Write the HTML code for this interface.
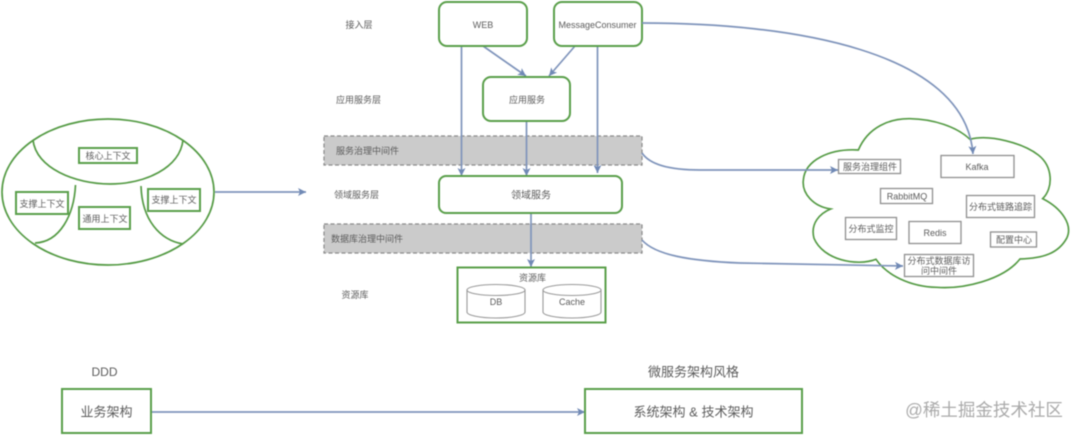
<!DOCTYPE html>
<html>
<head>
<meta charset="utf-8">
<style>
html,body{margin:0;padding:0;background:#fff;width:1080px;height:435px;overflow:hidden}
svg{display:block;filter:blur(0.6px)}
text{font-family:"Liberation Sans","Noto Sans CJK SC",sans-serif;fill:#5c5c5c;text-anchor:middle;dominant-baseline:central}
.g{fill:#fff;stroke:#5a9f4a;stroke-width:2}
.n{fill:none;stroke:#559b45;stroke-width:1.7}
.w{fill:#fff;stroke:#8f8f8f;stroke-width:1.3}
.d{fill:#cbcbcb;stroke:#8a8a8a;stroke-width:1.2;stroke-dasharray:4 2.5}
.a{fill:none;stroke:#7f94bb;stroke-width:1.7}
.c{fill:#fff;stroke:#999;stroke-width:1.1}
</style>
</head>
<body>
<svg width="1080" height="435" viewBox="0 0 1080 435" xmlns="http://www.w3.org/2000/svg">
<defs>
<marker id="m" markerUnits="userSpaceOnUse" markerWidth="10" markerHeight="10" refX="8" refY="4" orient="auto">
<path d="M0,0 L8,4 L0,8 L2,4 Z" fill="#7089b5"/>
</marker>
</defs>

<!-- left ellipse -->
<ellipse cx="108" cy="192" rx="106" ry="73" fill="#fff" stroke="#559b45" stroke-width="1.7"/>
<path class="n" d="M33,140 C36,168 75,184 110,184 C145,184 180,168 183,140"/>
<path class="n" d="M75.500,185 C74,215 60,242 35,243"/>
<path class="n" d="M141,186 C142,220 160,240 183,244"/>
<rect class="g" x="79" y="148" width="58" height="15" stroke-width="1.6"/>
<text x="108" y="156" font-size="9">核心上下文</text>
<rect class="g" x="16" y="192" width="52" height="22"/>
<text x="42" y="204" font-size="9">支撑上下文</text>
<rect class="g" x="79" y="207" width="51" height="22"/>
<text x="105" y="219" font-size="9">通用上下文</text>
<rect class="g" x="148" y="189" width="52" height="22"/>
<text x="174" y="200" font-size="9">支撑上下文</text>
<path class="a" d="M215,192 L306,192" marker-end="url(#m)"/>

<!-- layer labels -->
<text x="359" y="25" font-size="9">接入层</text>
<text x="358.500" y="100" font-size="9">应用服务层</text>
<text x="334" y="195" font-size="9" style="text-anchor:start">领域服务层</text>
<text x="355" y="295" font-size="9">资源库</text>

<!-- grey bands -->
<rect class="d" x="324" y="136" width="318" height="29"/>
<text x="336" y="151" font-size="9" style="text-anchor:start">服务治理中间件</text>
<rect class="d" x="324" y="224" width="318" height="29"/>
<text x="331" y="239" font-size="9" style="text-anchor:start">数据库治理中间件</text>

<!-- connectors -->
<path class="a" d="M461.500,46 L461.500,176" marker-end="url(#m)"/>
<path class="a" d="M526.500,121 L526.500,176" marker-end="url(#m)"/>
<path class="a" d="M597.500,46 L597.500,173" marker-end="url(#m)"/>
<path class="a" d="M531,213 L531,267" marker-end="url(#m)"/>
<path class="a" d="M483,46 L526,76" marker-end="url(#m)"/>
<path class="a" d="M575,46 L549,76" marker-end="url(#m)"/>

<!-- top nodes -->
<rect class="g" x="439" y="2" width="88" height="44" rx="8"/>
<text x="483" y="25" font-size="9">WEB</text>
<rect class="g" x="554" y="2" width="88" height="44" rx="8"/>
<text x="597.500" y="25" font-size="9">MessageConsumer</text>
<rect class="g" x="483" y="77" width="87" height="44" rx="8"/>
<text x="527" y="100" font-size="9">应用服务</text>
<rect class="g" x="439" y="176" width="183" height="37" rx="7"/>
<text x="531" y="196" font-size="10">领域服务</text>

<!-- resource box -->
<rect class="g" x="457.500" y="267.500" width="148" height="55" stroke-width="1.8"/>
<text x="532.500" y="278" font-size="9">资源库</text>
<g>
<path class="c" d="M467,290 L467,312 A29,6 0 0 0 525,312 L525,290 Z"/>
<ellipse class="c" cx="496" cy="290" rx="29" ry="5.500"/>
<text x="496" y="302" font-size="9">DB</text>
<path class="c" d="M543,290 L543,312 A29,6 0 0 0 601,312 L601,290 Z"/>
<ellipse class="c" cx="572" cy="290" rx="29" ry="5.500"/>
<text x="572" y="302" font-size="9">Cache</text>
</g>

<!-- cloud -->
<path transform="translate(790,110) scale(0.3333)" fill="#fff" stroke="#559b45" stroke-width="5"
d="M205,120 C235,50 300,25 360,26 C430,27 500,50 540,88 C600,72 700,100 745,135 C790,170 790,235 758,266 C815,295 850,345 830,385 C805,430 760,445 690,447 C640,510 520,538 440,532 C360,530 290,495 258,448 C200,470 100,450 72,385 C60,340 90,310 122,297 C70,290 35,250 40,210 C45,150 120,115 205,120 Z"/>

<!-- curved connectors -->
<path class="a" d="M642,23 C790,23 965,50 973,154" marker-end="url(#m)"/>
<rect class="w" x="838.500" y="159.500" width="62" height="14"/>
<text x="870" y="167" font-size="9">服务治理组件</text>
<path class="a" d="M642,153 C650,165 670,170 700,170 L838,170" marker-end="url(#m)"/>
<rect class="w" x="941" y="155.500" width="73" height="22"/>
<text x="977" y="167" font-size="9">Kafka</text>
<rect class="w" x="880.500" y="188.500" width="52" height="15"/>
<text x="907" y="196.500" font-size="9">RabbitMQ</text>
<rect class="w" x="966.500" y="195.500" width="68" height="22"/>
<text x="1000.500" y="207" font-size="9">分布式链路追踪</text>
<rect class="w" x="845.500" y="217.500" width="51" height="22"/>
<text x="871" y="229" font-size="9">分布式监控</text>
<rect class="w" x="909" y="221.500" width="52" height="22"/>
<text x="935" y="233" font-size="9">Redis</text>
<rect class="w" x="990.500" y="232" width="46" height="15"/>
<text x="1014" y="240" font-size="9">配置中心</text>
<path class="a" d="M642,240 C655,255 690,261 740,263 L903,266" marker-end="url(#m)"/>
<rect class="w" x="904.500" y="254.500" width="69" height="22"/>
<text x="939" y="261" font-size="9">分布式数据库访</text>
<text x="939" y="271" font-size="9">问中间件</text>

<!-- bottom -->
<text x="104.500" y="372" font-size="12">DDD</text>
<text x="693.500" y="372" font-size="13">微服务架构风格</text>
<path class="a" d="M151,412 L585,412" marker-end="url(#m)"/>
<rect class="g" x="62" y="389" width="89" height="44"/>
<text x="106.500" y="412" font-size="13">业务架构</text>
<rect class="g" x="585" y="389" width="217" height="44"/>
<text x="693.500" y="412" font-size="13">系统架构 &amp; 技术架构</text>
<text x="984" y="410" font-size="17.500" style="fill:#aaa">@稀土掘金技术社区</text>
</svg>
</body>
</html>
